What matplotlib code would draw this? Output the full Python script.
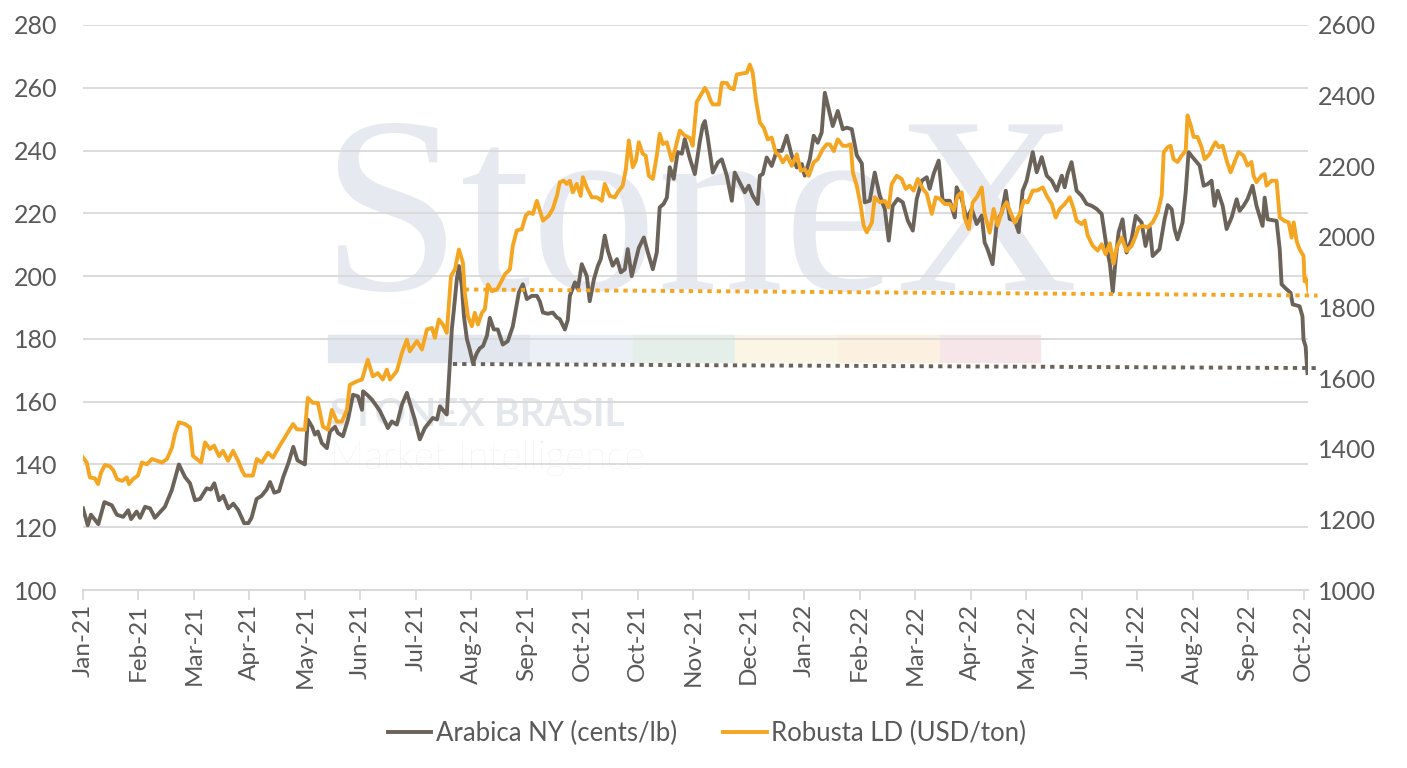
import matplotlib
matplotlib.use("Agg")
import matplotlib.pyplot as plt
from matplotlib.patches import Rectangle
import numpy as np

# trading-day index (21 per tick label) and values
arabica_day = [0, 1.8, 3.0, 5.8, 8.1, 10.9, 12.8, 15.2, 17.1, 18.2, 20.3, 21.6, 23.5, 25.4, 27.2, 31.0,
               33.6, 36.3, 38.6, 40.5, 42.4, 44.3, 46.8, 48.4, 49.7, 51.5, 53.1, 55.0, 56.9, 58.8, 61.0,
               62.6, 63.8, 65.7, 67.6, 69.5, 70.8, 72.4, 74.2, 75.8, 77.7, 79.6, 81.2, 84.0, 85.1, 86.7,
               87.8, 88.9, 90.4, 92.3, 93.5, 95.4, 96.5, 98.4, 100.3, 102.2, 104.1, 105.6, 106.0, 107.8,
               109.4, 111.2, 112.4, 114.3, 115.4, 116.9, 118.8, 120.7, 122.6, 123.7, 125.6, 127.5, 129.4,
               130.9, 132.4, 134.0, 135.1, 136.2, 137.7, 138.5, 139.6, 140.4, 141.5, 142.3, 143.4, 144.2,
               145.3, 146.4, 147.6, 149.1, 150.2, 151.4, 152.9, 154.0, 155.5, 157.0, 158.9, 160.8, 162.7,
               165.0, 166.5, 168.0, 169.9, 171.8, 172.9, 174.1, 176.0, 177.8, 179.4, 180.5, 182.4, 183.5,
               184.3, 186.2, 187.3, 188.8, 190.7, 191.8, 193.4, 194.9, 196.0, 197.5, 198.7, 200.5, 202.1,
               203.6, 205.1, 206.2, 207.7, 209.3, 210.4, 212.3, 213.8, 215.7, 217.2, 218.3, 219.8, 221.0,
               222.1, 223.6, 225.1, 226.7, 227.8, 229.7, 231.6, 233.5, 234.6, 235.4, 236.5, 238.4, 240.3,
               241.8, 243.7, 245.6, 246.7, 248.6, 250.5, 252.0, 253.5, 255.4, 256.2, 257.3, 258.8, 260.7,
               262.6, 264.5, 266.4, 268.3, 270.2, 272.1, 273.2, 275.1, 276.6, 278.1, 279.6, 280.8, 282.3,
               283.8, 285.7, 287.6, 289.1, 291.0, 292.9, 294.8, 295.9, 297.8, 299.7, 301.6, 303.5, 305.0,
               306.5, 308.4, 310.3, 312.2, 314.1, 315.6, 317.5, 319.4, 320.5, 322.0, 323.9, 325.4, 328.1,
               330.0, 330.7, 332.6, 334.5, 336.4, 338.3, 340.2, 341.3, 342.4, 344.3, 345.9, 347.8, 349.3,
               350.8, 352.7, 354.2, 355.7, 357.2, 359.5, 361.0, 362.9, 364.8, 366.7, 368.6, 370.5, 371.6,
               372.7, 374.2, 376.1, 378.0, 379.9, 381.8, 383.7, 385.6, 387.5, 388.7, 389.8, 390.9, 392.0,
               393.5, 395.0, 396.9, 398.5, 400.7, 402.2, 403.8, 404.9, 407.5, 409.4, 410.6, 412.1, 413.2,
               414.3, 416.2, 417.4, 418.5, 420.0, 422.7, 424.2, 425.7, 427.2, 428.3, 429.5, 431.4, 432.9,
               434.8, 436.7, 437.8, 439.3, 440.8, 442.7, 444.2, 446.5, 447.3, 448.4, 451.8, 453.0, 453.7,
               455.6, 457.1, 457.9, 460.5, 461.6, 462.0, 462.8, 463.5]
arabica_val = [126, 120.6, 124, 121, 128, 127, 124, 123.3, 125.4, 122.6, 125, 123, 126.5, 126, 123, 126.5,
               131.8, 140, 136, 134, 128.6, 129, 132.4, 132, 134, 128.6, 130, 126, 127.5, 125.4, 121.3,
               121.3, 123, 129, 130, 132, 134.4, 131, 131.5, 136, 140.3, 145.6, 141.3, 140, 154.3, 152,
               149.5, 150.5, 146.8, 145.2, 150.5, 152, 150, 149, 154.3, 162.2, 161.7, 157.4, 163.3, 162,
               160.6, 158.5, 157, 153.7, 151.6, 153.7, 152.7, 159, 162.8, 159.6, 154.3, 148, 151.6,
               153.2, 154.8, 154.3, 158.5, 157.4, 155.9, 167, 183, 189.4, 199, 203.2, 196.8, 187.2,
               180, 176.6, 172.3, 175.5, 177, 177.7, 181, 186.7, 183, 183, 178.2, 179.3, 184,
               194.8, 197.4, 192.7, 193.7, 193.7, 192, 188.4, 188, 188.4, 186.8, 186.3, 183, 186,
               193.7, 198, 195.9, 203.8, 200, 192, 199, 203.3, 205.4, 212.9, 208, 203.3, 205.4,
               201.2, 202.2, 208.6, 200, 205.4, 209, 212.3, 207.6, 202.2, 207.6, 221.9, 223, 225,
               234.7, 231, 239.5, 239, 243.7, 237.5, 232.5, 243, 248, 249.4, 244, 233, 236.2,
               237.2, 232, 224, 233, 229.8, 226.7, 228.8, 225.6, 223, 232, 232.5, 237.8, 235.1,
               239.9, 239.9, 244.7, 238.3, 234.6, 235.7, 232, 237.2, 244.7, 242.5, 245.7, 258.4, 253.1,
               247.8, 252.6, 246.8, 247.3, 246.8, 238.5, 235.9, 223.5, 224, 233, 225.6, 221.4, 211.3,
               222.4, 224.6, 223.5, 217.7, 214.5, 224.6, 230.4, 231.5, 227.8, 232.6, 236.8, 224, 224,
               218.7, 228.3, 224.6, 218.2, 221.4, 216.6, 219.3, 210.7, 208.6, 203.8, 217.1, 220.3, 227.2,
               218.2, 217.7, 214, 227.2, 230.4, 239.5, 233.1, 237.9, 232, 230.4, 227.2, 232, 228.3,
               232.6, 236.3, 227.2, 225.6, 223, 222.4, 221.4, 219.8, 209, 204, 195, 205.4, 213.9,
               218.1, 207.5, 211.7, 219.2, 217.1, 209.6, 215.5, 206.4, 208.6, 218.1, 222.6, 221.3, 215,
               211.7, 217.1, 226.7, 239.5, 237.9, 235.2, 228.8, 229.3, 230.4, 222.4, 227.2, 222.4, 215,
               218.7, 224.5, 220.8, 222.4, 224.5, 228.8, 222.4, 216, 225, 218.1, 217.6, 208.5, 197.4,
               195.8, 194.7, 191, 190.4, 187.2, 179.8, 177.6, 169.1]

robusta_day = [0, 1.4, 2.6, 4.5, 5.7, 6.8, 8.3, 10.2, 11.4, 12.9, 14.8, 16.6, 17.4, 18.9, 20.8, 22.3,
               24.2, 26.1, 28.0, 29.9, 31.8, 33.7, 34.8, 36.3, 38.6, 40.5, 41.6, 43.1, 44.7, 46.2, 48.1,
               49.6, 51.5, 53.0, 54.9, 56.8, 58.7, 60.2, 61.3, 64.3, 65.8, 67.7, 70.0, 71.9, 74.5, 77.2,
               79.5, 81.0, 84.0, 85.1, 87.0, 88.9, 90.8, 92.7, 94.2, 96.1, 98.0, 99.9, 101.0, 103.7,
               105.6, 107.8, 109.7, 111.6, 113.5, 115.0, 116.2, 118.8, 120.7, 122.6, 123.7, 126.4, 128.3,
               130.2, 132.1, 133.2, 134.7, 136.2, 137.7, 139.3, 140.8, 142.3, 143.8, 144.5, 145.7, 147.2,
               148.3, 149.5, 151.0, 152.1, 153.3, 154.8, 156.7, 158.5, 159.7, 161.6, 162.7, 164.2, 166.1,
               167.6, 168.8, 170.3, 171.8, 172.9, 174.1, 176.3, 177.8, 179.4, 180.5, 182.0, 183.1, 184.3,
               185.4, 186.9, 188.4, 189.2, 190.7, 192.6, 194.5, 196.4, 197.5, 199.4, 201.3, 202.4, 204.3,
               205.5, 206.6, 208.1, 209.3, 210.4, 211.9, 213.0, 214.2, 215.7, 217.2, 218.3, 219.5, 221.0,
               222.9, 224.0, 225.9, 227.8, 229.7, 230.8, 232.3, 234.2, 235.4, 236.5, 237.6, 238.4, 240.7,
               241.8, 243.7, 244.8, 246.3, 247.5, 249.7, 251.3, 252.4, 253.5, 254.7, 256.2, 257.7, 259.2,
               260.7, 262.2, 263.7, 264.9, 266.4, 268.3, 270.2, 271.7, 273.2, 274.7, 276.6, 278.1, 280.0,
               281.5, 282.7, 284.2, 285.7, 287.6, 289.1, 290.6, 291.4, 292.9, 294.4, 295.5, 296.7, 298.6,
               299.7, 301.6, 303.5, 305.0, 306.1, 308.0, 309.9, 311.4, 312.9, 314.4, 316.0, 317.9, 319.4,
               321.3, 322.8, 324.3, 326.2, 328.1, 329.6, 331.1, 332.6, 333.7, 335.3, 336.8, 338.3, 340.2,
               341.3, 343.2, 344.7, 346.2, 348.1, 349.6, 351.1, 352.7, 354.6, 356.1, 357.6, 359.5, 361.0,
               363.3, 364.8, 366.7, 368.2, 369.7, 371.6, 373.5, 375.0, 376.1, 378.0, 379.2, 380.3, 382.2,
               384.1, 385.6, 387.1, 388.7, 390.1, 391.3, 393.2, 395.0, 396.9, 398.5, 399.6, 401.1, 403.0,
               404.9, 406.8, 408.3, 409.1, 410.6, 411.7, 412.8, 414.3, 415.9, 417.4, 418.1, 419.3, 420.4,
               421.9, 423.4, 424.6, 426.5, 427.6, 428.7, 429.9, 431.4, 432.9, 434.4, 435.9, 437.4, 439.3,
               440.8, 442.3, 443.1, 444.2, 446.1, 447.3, 448.0, 449.9, 451.8, 453.0, 454.9, 456.4, 457.5,
               458.3, 459.4, 460.5, 462.0, 462.4, 463.1, 463.9]
robusta_val = [1375, 1361, 1319, 1316, 1300, 1332, 1354, 1350, 1340, 1314, 1309, 1319, 1300, 1314, 1324, 1361,
               1356, 1371, 1366, 1361, 1371, 1404, 1442, 1475, 1470, 1460, 1380, 1371, 1361, 1418, 1399,
               1409, 1379, 1394, 1366, 1394, 1366, 1338, 1324, 1324, 1371, 1361, 1389, 1375, 1409, 1442,
               1470, 1455, 1454, 1544, 1530, 1530, 1463, 1454, 1510, 1477, 1477, 1510, 1581, 1591,
               1596, 1652, 1605, 1614, 1596, 1624, 1596, 1620, 1671, 1709, 1676, 1705, 1681,
               1738, 1742, 1714, 1766, 1752, 1728, 1889, 1908, 1964, 1927, 1842, 1775, 1747,
               1785, 1752, 1785, 1795, 1865, 1846, 1851, 1876, 1894, 1908, 1975, 2018, 2022,
               2060, 2069, 2065, 2102, 2075, 2046, 2060, 2079, 2116, 2155, 2159, 2150, 2159,
               2126, 2150, 2116, 2169, 2140, 2112, 2112, 2102, 2150, 2116, 2112, 2126, 2145,
               2192, 2273, 2197, 2216, 2268, 2235, 2230, 2173, 2164, 2230, 2292, 2263, 2268,
               2216, 2244, 2301, 2287, 2280, 2258, 2382, 2406, 2422, 2408, 2385, 2375, 2375,
               2436, 2436, 2422, 2418, 2460, 2463, 2465, 2488, 2465, 2389, 2324, 2309, 2276,
               2281, 2239, 2229, 2211, 2229, 2201, 2234, 2187, 2192, 2173, 2211, 2220, 2248,
               2262, 2262, 2243, 2276, 2258, 2258, 2262, 2182, 2145, 2088, 2032, 2013, 2040,
               2112, 2098, 2102, 2083, 2149, 2173, 2164, 2136, 2145, 2131, 2164, 2136, 2122,
               2065, 2112, 2108, 2093, 2093, 2075, 2116, 2126, 2055, 2022, 2098, 2112, 2140,
               2065, 2012, 2079, 2032, 2079, 2098, 2069, 2040, 2065, 2102, 2098, 2131, 2131,
               2140, 2116, 2093, 2055, 2079, 2093, 2112, 2079, 2046, 2036, 2046, 2004, 1975,
               1961, 1979, 1951, 1982, 1924, 1970, 1998, 1960, 1974, 2003, 2027, 2031, 2027,
               2041, 2069, 2116, 2240, 2254, 2258, 2220, 2212, 2230, 2244, 2344, 2316, 2283,
               2283, 2254, 2220, 2235, 2254, 2268, 2254, 2258, 2216, 2183, 2212, 2240, 2230,
               2202, 2212, 2173, 2155, 2173, 2178, 2145, 2159, 2159, 2055, 2045, 2041, 1998,
               2041, 1988, 1965, 1946, 1874, 1880, 1846]

# dotted reference lines (start/end day, value)
arabica_ref_day = [140, 467.3]
arabica_ref_val = [172, 170.7]
robusta_ref_day = [144.5, 467.3]
robusta_ref_val = [1851, 1834]

tick_labels = ["Jan-21", "Feb-21", "Mar-21", "Apr-21", "May-21", "Jun-21", "Jul-21", "Aug-21",
               "Sep-21", "Oct-21", "Oct-21", "Nov-21", "Dec-21", "Jan-22", "Feb-22", "Mar-22",
               "Apr-22", "May-22", "Jun-22", "Jul-22", "Aug-22", "Sep-22", "Oct-22"]
tick_days = [21 * i for i in range(len(tick_labels))]

ARABICA = "#6b6359"
ROBUSTA = "#f4a521"
TEXT = "#595959"
GRID = "#d9d9d9"

plt.rcParams['font.family'] = ['Lato', 'DejaVu Sans']

fig = plt.figure(figsize=(14.07, 7.68), dpi=100)
fig.patch.set_facecolor("white")

# faint watermark behind the chart
wm = "#e6e9ef"
fig.text(0.497, 0.622, "StoneX", fontsize=182, family=["Liberation Serif", "DejaVu Serif"],
         color=wm, ha="center", va="baseline", zorder=-5)
bar_cols = ["#e2e6ee", "#ebf0f7", "#e5efe9", "#faf5e4", "#fcf0e1", "#f7e6e9"]
bar_x = [328, 530, 633, 735, 838, 940]
bar_w = [202, 103, 102, 103, 102, 100]
for c, bx, bw in zip(bar_cols, bar_x, bar_w):
    fig.patches.append(Rectangle((bx / 1407, 1 - 362 / 768), bw / 1407, 27 / 768,
                                 transform=fig.transFigure, color=c, zorder=-5))
fig.text(330 / 1407, 1 - 415 / 768, "STONEX BRASIL", fontsize=28, fontweight="bold",
         color="#e4e7ec", ha="left", va="center", zorder=-5)
fig.text(330 / 1407, 1 - 458 / 768, "Market Intelligence", fontsize=28, fontweight="light",
         color="#e8ebf0", ha="left", va="center", zorder=-5)

ax = fig.add_axes([83 / 1407, 1 - 590 / 768, 1225 / 1407, 565 / 768])
ax.patch.set_alpha(0)
ax2 = ax.twinx()

ax.plot(arabica_day, arabica_val, color=ARABICA, lw=2.8, solid_joinstyle="round",
        label="Arabica NY (cents/lb)", zorder=3)
ax.plot(arabica_ref_day, arabica_ref_val, color=ARABICA, lw=2.8, ls=(0, (1.1, 1.3)),
        clip_on=False, zorder=3)
ax2.plot(robusta_day, robusta_val, color=ROBUSTA, lw=2.8, solid_joinstyle="round",
         label="Robusta LD (USD/ton)", zorder=3)
ax2.plot(robusta_ref_day, robusta_ref_val, color=ROBUSTA, lw=2.8, ls=(0, (1.1, 1.3)),
         clip_on=False, zorder=3)

ax.set_xlim(0, 463.7)
ax.set_ylim(100, 280)
ax.set_yticks(np.arange(100, 281, 20))
ax2.set_ylim(1000, 2600)
ax2.set_yticks(np.arange(1000, 2601, 200))
ax.yaxis.grid(True, color=GRID, lw=1.3)
ax.set_axisbelow(True)

ax.set_xticks(tick_days)
ax.set_xticklabels(tick_labels, rotation=90)

for a in (ax, ax2):
    for s in ("top", "left", "right", "bottom"):
        a.spines[s].set_visible(False)
ax.spines["bottom"].set_visible(True)
ax.spines["bottom"].set_color(GRID)
ax.spines["bottom"].set_linewidth(1.5)

ax.tick_params(axis="x", colors=GRID, labelcolor=TEXT, labelsize=17.5, length=7, width=1.3, pad=3)
ax.tick_params(axis="y", length=0, labelcolor=TEXT, labelsize=18, pad=18.5)
ax2.tick_params(axis="y", length=0, labelcolor=TEXT, labelsize=18, pad=7)

h1, l1 = ax.get_legend_handles_labels()
h2, l2 = ax2.get_legend_handles_labels()
fig.legend(h1 + h2, l1 + l2, loc="center", bbox_to_anchor=(707 / 1407, 1 - 733 / 768), ncol=2,
           frameon=False, fontsize=18.5, labelcolor=TEXT, handlelength=1.7, handletextpad=0.18,
           columnspacing=1.8)

fig.savefig("out.png", dpi=100)
